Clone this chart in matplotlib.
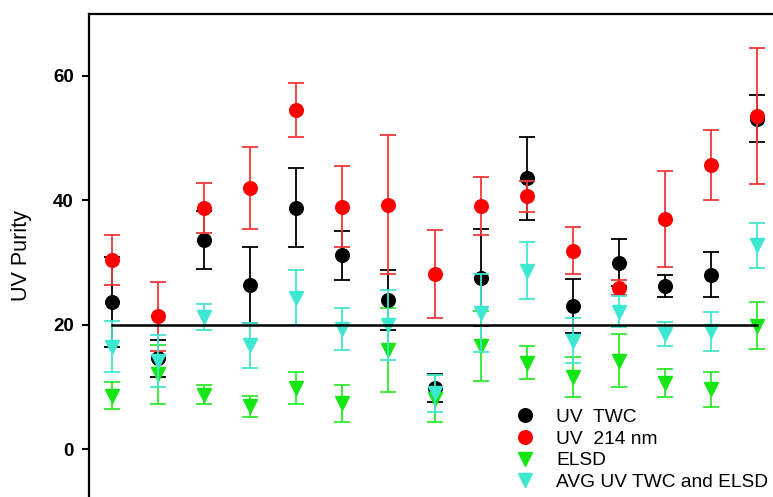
import matplotlib
matplotlib.use('Agg')
import matplotlib.pyplot as plt
import numpy as np

plt.rcParams['font.family'] = ['Liberation Sans', 'DejaVu Sans']

samples = np.arange(1, 16)

uv_twc = [23.65, 14.6, 33.65, 26.4, 38.8, 31.15, 23.9, 9.85, 27.55, 43.5, 23.05, 29.95, 26.25, 28.05, 53.1]
uv_twc_err = [7.25, 3.0, 4.65, 6.1, 6.4, 3.95, 4.8, 2.25, 7.75, 6.7, 4.35, 3.75, 1.75, 3.55, 3.8]

uv_214 = [30.4, 21.35, 38.8, 42.0, 54.5, 38.95, 39.3, 28.15, 39.05, 40.6, 31.9, 25.95, 37.0, 45.7, 53.5]
uv_214_err = [4.0, 5.55, 4.0, 6.6, 4.4, 6.55, 11.2, 7.05, 4.65, 2.5, 3.8, 1.15, 7.7, 5.6, 10.9]

elsd = [8.6, 12.0, 8.75, 6.85, 9.8, 7.35, 15.9, 8.1, 16.55, 13.9, 11.6, 14.2, 10.6, 9.6, 19.8]
elsd_err = [2.2, 4.8, 1.5, 1.75, 2.6, 3.0, 6.7, 3.8, 5.6, 2.6, 3.2, 4.3, 2.3, 2.8, 3.8]

avg = [16.45, 14.1, 21.2, 16.65, 24.3, 19.25, 19.9, 8.95, 21.9, 28.65, 17.4, 22.1, 18.5, 18.9, 32.75]
avg_err = [4.05, 4.2, 2.1, 3.65, 4.4, 3.35, 5.6, 2.95, 6.3, 4.55, 3.6, 2.5, 1.9, 3.1, 3.65]

threshold = 20

fig = plt.figure(figsize=(7.73, 4.97), dpi=100)
ax = fig.add_axes([89/773, 0, 1 - 89/773, 1 - 14/497])

kw = dict(capsize=6, elinewidth=1.3, capthick=1.3, markersize=9.8, linestyle='none')
h1 = ax.errorbar(samples, uv_twc, yerr=uv_twc_err, fmt='o', color='black', ecolor='black', label='UV  TWC', zorder=3, **kw)
h2 = ax.errorbar(samples, uv_214, yerr=uv_214_err, fmt='o', color='#ff0000', ecolor='#f23838', label='UV  214 nm', zorder=4, **kw)
h3 = ax.errorbar(samples, elsd, yerr=elsd_err, fmt='v', color='#14e614', ecolor='#2ee82e', label='ELSD', zorder=3, **kw)
h4 = ax.errorbar(samples, avg, yerr=avg_err, fmt='v', color='#3ce8d2', ecolor='#44e6d0', label='AVG UV TWC and ELSD', zorder=5, **kw)

ax.plot([samples[0], samples[-1]], [threshold, threshold], color='black', lw=1.8, zorder=6)

ax.set_xlim(0.5, 1 + (773 - 112) / 46.07)
ax.set_ylim((449 - 497) / 6.22, (449 - 14) / 6.22)
ax.set_yticks([0, 20, 40, 60])
ax.set_xticks([])
ax.tick_params(axis='y', length=5, width=1.5, pad=6, labelsize=13.5)
for lab in ax.get_yticklabels():
    lab.set_fontweight('bold')

for s in ['right', 'bottom']:
    ax.spines[s].set_visible(False)
for s in ['left', 'top']:
    ax.spines[s].set_linewidth(1.6)

fig.text(22/773, 1 - 256/497, 'UV Purity', rotation=90, ha='center', va='center', fontsize=15.5)

leg = fig.legend(handles=[h1[0], h2[0], h3[0], h4[0]],
                 labels=['UV  TWC', 'UV  214 nm', 'ELSD', 'AVG UV TWC and ELSD'],
                 loc='lower left', bbox_to_anchor=(515/773, 6/497), frameon=False,
                 fontsize=13.8, handlelength=1.0, handletextpad=1.15, labelspacing=0.22,
                 borderpad=0, borderaxespad=0)

fig.savefig('out.png', dpi=100)
